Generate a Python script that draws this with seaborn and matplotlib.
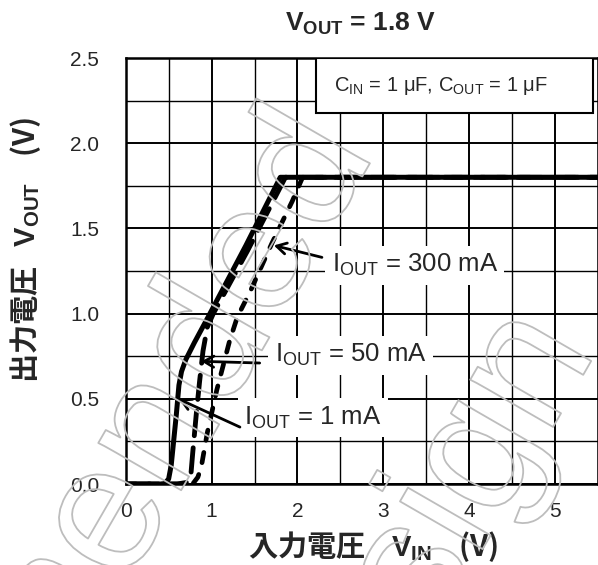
import matplotlib
matplotlib.use("Agg")
import matplotlib.pyplot as plt
import matplotlib.patheffects as pe
from matplotlib.font_manager import fontManager
from matplotlib.patches import Rectangle
import seaborn as sns

# 読み取ったデータ (V_IN, V_OUT)
vin_1ma = [0, 0.45, 0.50, 0.53, 0.56, 0.59, 0.62, 0.65, 0.70, 0.80, 0.96, 1.40, 1.80, 5.5]
vout_1ma = [0, 0, 0.03, 0.11, 0.26, 0.41, 0.58, 0.66, 0.73, 0.83, 0.98, 1.40, 1.80, 1.80]

vin_50ma = [0, 0.60, 0.72, 0.76, 0.78, 0.82, 0.86, 0.90, 0.95, 1.02, 1.42, 1.86, 5.5]
vout_50ma = [0, 0, 0.01, 0.06, 0.18, 0.40, 0.60, 0.78, 0.92, 1.00, 1.37, 1.80, 1.80]

vin_300ma = [0, 0.78, 0.84, 0.88, 0.95, 1.06, 1.21, 1.30, 1.45, 1.70, 1.94, 2.06, 5.5]
vout_300ma = [0, 0, 0.04, 0.10, 0.30, 0.55, 0.84, 0.98, 1.13, 1.41, 1.66, 1.80, 1.80]

x_ticks = [0, 1, 2, 3, 4, 5]
y_ticks = [0.0, 0.5, 1.0, 1.5, 2.0, 2.5]

sns.set_style("white")
plt.rcParams["font.family"] = ["Liberation Sans", "Noto Sans CJK JP"]
plt.rcParams["mathtext.fontset"] = "custom"
plt.rcParams["mathtext.rm"] = "Liberation Sans"
plt.rcParams["mathtext.it"] = "Liberation Sans:italic"
plt.rcParams["mathtext.bf"] = "Liberation Sans:bold"

names = {f.name for f in fontManager.ttflist}
tick_font = "Liberation Sans Narrow" if "Liberation Sans Narrow" in names else "Liberation Sans"

fig = plt.figure(figsize=(5.98, 5.65), dpi=100)
ax = fig.add_axes([125.7 / 598, 81 / 565, 472.3 / 598, 426 / 565])

# 曲線
sns.lineplot(x=vin_1ma, y=vout_1ma, ax=ax, color="black", lw=3.6,
             estimator=None, sort=False, solid_capstyle="round", zorder=5)
sns.lineplot(x=vin_50ma, y=vout_50ma, ax=ax, color="black", lw=3.5,
             estimator=None, sort=False, linestyle=(0, (5, 2.5)),
             dash_capstyle="round", zorder=4)
sns.lineplot(x=vin_300ma, y=vout_300ma, ax=ax, color="black", lw=3.4,
             estimator=None, sort=False, linestyle=(0, (2.2, 2.6)),
             dash_capstyle="round", zorder=4)

ax.set_xlim(0, 5.5)
ax.set_ylim(0, 2.5)
ax.set_xticks(x_ticks, [str(t) for t in x_ticks], fontfamily=tick_font, fontsize=15)
ax.set_yticks(y_ticks, [f"{t:.1f}" for t in y_ticks], fontfamily=tick_font, fontsize=15)
ax.set_xticks([0.5 * i for i in range(12)], minor=True)
ax.set_yticks([0.25 * i for i in range(11)], minor=True)
ax.tick_params(which="both", length=0)
ax.tick_params(axis="x", pad=13)
ax.tick_params(axis="y", pad=19)
ax.grid(which="major", color="black", lw=1.4, zorder=1)
ax.grid(which="minor", color="black", lw=1.0, zorder=1)
ax.set_axisbelow(True)
for s in ax.spines.values():
    s.set_color("black")
    s.set_linewidth(1.8)

# 軸ラベル (日本語部分は数式外なので既定フォントを CJK にする)
ax.set_xlabel("入力電圧    $\\mathbf{V_{IN}}$    (V)", fontsize=21, fontweight="bold",
              fontfamily="Noto Sans CJK JP")
ax.xaxis.set_label_coords(0.523, -0.105)
ax.set_ylabel("出力電圧   $\\mathbf{V_{OUT}}$    (V)", fontsize=21, fontweight="bold",
              fontfamily="Noto Sans CJK JP")
ax.yaxis.set_label_coords(-0.176, 0.55)
fig.text(0.602, 0.958, "$\\mathbf{V_{OUT}}$ = 1.8 V", fontsize=19, fontweight="bold",
         ha="center", va="center")

# 条件ボックス
ax.add_patch(Rectangle((0.403, 0.871), 0.586, 0.129, transform=ax.transAxes,
                       facecolor="white", edgecolor="black", lw=1.5, zorder=6))
ax.text(0.441, 0.935, "$\\mathrm{C_{IN}}$ = 1 μF, $\\mathrm{C_{OUT}}$ = 1 μF",
        transform=ax.transAxes, fontsize=14.5, ha="left", va="center", zorder=7)

# ラベルと矢印
labels = [
    ("$\\mathrm{I_{OUT}}$ = 300 mA", (1.725, 1.40), (2.285, 1.33), (2.40, 1.284)),
    ("$\\mathrm{I_{OUT}}$ = 50 mA", (0.88, 0.72), (1.56, 0.71), (1.735, 0.756)),
    ("$\\mathrm{I_{OUT}}$ = 1 mA", (0.62, 0.498), (1.33, 0.334), (1.38, 0.39)),
]
for txt, tip, tail, pos in labels:
    ax.text(pos[0], pos[1], txt, fontsize=18.5, ha="left", va="center", zorder=6,
            bbox=dict(boxstyle="square,pad=0.25", facecolor="white", edgecolor="none"))
    ax.annotate("", xy=tip, xytext=tail,
                arrowprops=dict(arrowstyle="->,head_length=0.7,head_width=0.4",
                                lw=2.0, color="black", shrinkA=0, shrinkB=0),
                zorder=7)

# 透かし
wm = dict(fontsize=130, color="none", rotation=60, rotation_mode="anchor",
          ha="right", va="center", zorder=10,
          path_effects=[pe.Stroke(linewidth=1.3, foreground="#bdbdbd")])
fig.text(0.56, 0.77, "Not Recommended", **wm)
fig.text(0.93, 0.42, "for New Design", **wm)

fig.savefig("out.png", dpi=100)
